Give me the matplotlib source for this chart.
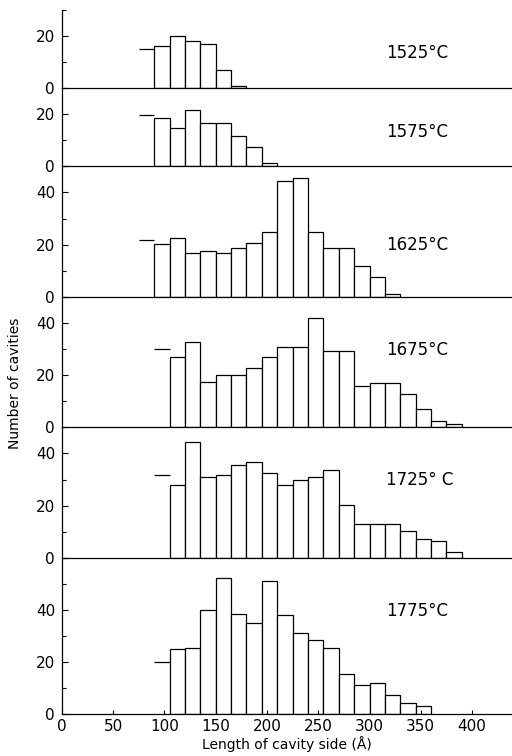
import numpy as np
import matplotlib
matplotlib.use("Agg")
import matplotlib.pyplot as plt
from matplotlib.ticker import MultipleLocator

# histogram data, bin width 15 A
temps = ["1525°C", "1575°C", "1625°C", "1675°C", "1725° C", "1775°C"]
bin_width = 15
first_edge = [90, 90, 90, 105, 105, 105]
left_level = [15, 19.7, 21.9, 29.9, 31.6, 20.2]

counts_1525 = [16, 20, 18, 17, 7, 1]
counts_1575 = [18.6, 14.6, 21.8, 16.5, 16.7, 11.5, 7.5, 1.3]
counts_1625 = [20.4, 22.7, 16.9, 17.7, 16.9, 18.8, 20.8, 25, 44.5, 45.6,
               24.9, 18.7, 18.7, 11.8, 7.7, 1.0]
counts_1675 = [26.8, 32.8, 17.2, 20, 19.9, 22.9, 26.9, 30.9, 30.8, 41.8,
               29.1, 29.1, 15.8, 16.9, 16.9, 12.7, 7.1, 2.3, 1.3]
counts_1725 = [27.8, 44.4, 30.8, 31.8, 35.7, 36.7, 32.7, 28.1, 29.9, 30.9,
               33.8, 20.1, 13, 13, 13, 10.1, 7.3, 6.3, 2.2]
counts_1775 = [25.1, 25.3, 40.1, 52.3, 38.5, 35.2, 51.2, 38.2, 31.3, 28.5,
               25.3, 15.3, 11.1, 12.1, 7.4, 4.2, 3.2]
all_counts = [counts_1525, counts_1575, counts_1625,
              counts_1675, counts_1725, counts_1775]

y_tops = [30, 30, 50, 50, 50, 60]
y_major = [[0, 20], [0, 20], [0, 20, 40], [0, 20, 40], [0, 20, 40], [0, 20, 40]]
label_y = [13.3, 13.2, 19.8, 29.5, 29.8, 39.5]
x_ticks = [0, 50, 100, 150, 200, 250, 300, 350, 400]

fig = plt.figure(figsize=(5.12, 7.56), dpi=100)
gs = fig.add_gridspec(6, 1, height_ratios=y_tops, hspace=0,
                      left=0.121, right=1.0, top=0.987, bottom=0.055)

axes = []
for i in range(6):
    ax = fig.add_subplot(gs[i])
    ax.patch.set_visible(False)
    axes.append(ax)
    counts = all_counts[i]
    edges = first_edge[i] + bin_width * np.arange(len(counts))
    ax.bar(edges, counts, width=bin_width, align="edge",
           facecolor="white", edgecolor="black", linewidth=0.9)
    ax.hlines(left_level[i], first_edge[i] - bin_width, first_edge[i],
              color="black", linewidth=0.9)
    ax.set_xlim(0, 439)
    ax.set_ylim(0, y_tops[i])
    ax.set_yticks(y_major[i])
    ax.yaxis.set_minor_locator(MultipleLocator(10))
    ax.tick_params(axis="y", which="major", direction="in", length=4,
                   width=0.8, labelsize=11, pad=5)
    ax.tick_params(axis="y", which="minor", direction="in", length=3,
                   width=0.8)
    ax.spines["top"].set_visible(False)
    ax.spines["right"].set_visible(False)
    ax.spines["left"].set_linewidth(0.9)
    ax.spines["bottom"].set_linewidth(0.9)
    ax.spines["bottom"].set_zorder(5)
    ax.text(316, label_y[i], temps[i], fontsize=12, va="center", ha="left")
    if i < 5:
        ax.set_xticks([])
    else:
        ax.set_xticks(x_ticks)
        ax.tick_params(axis="x", direction="in", length=3, width=0.8,
                       labelsize=11, pad=3)
        ax.set_xlabel("Length of cavity side (Å)", fontsize=10, labelpad=2)

fig.text(0.03, 0.493, "Number of cavities", rotation=90, fontsize=10,
         ha="center", va="center")

fig.savefig("out.png", dpi=100)
